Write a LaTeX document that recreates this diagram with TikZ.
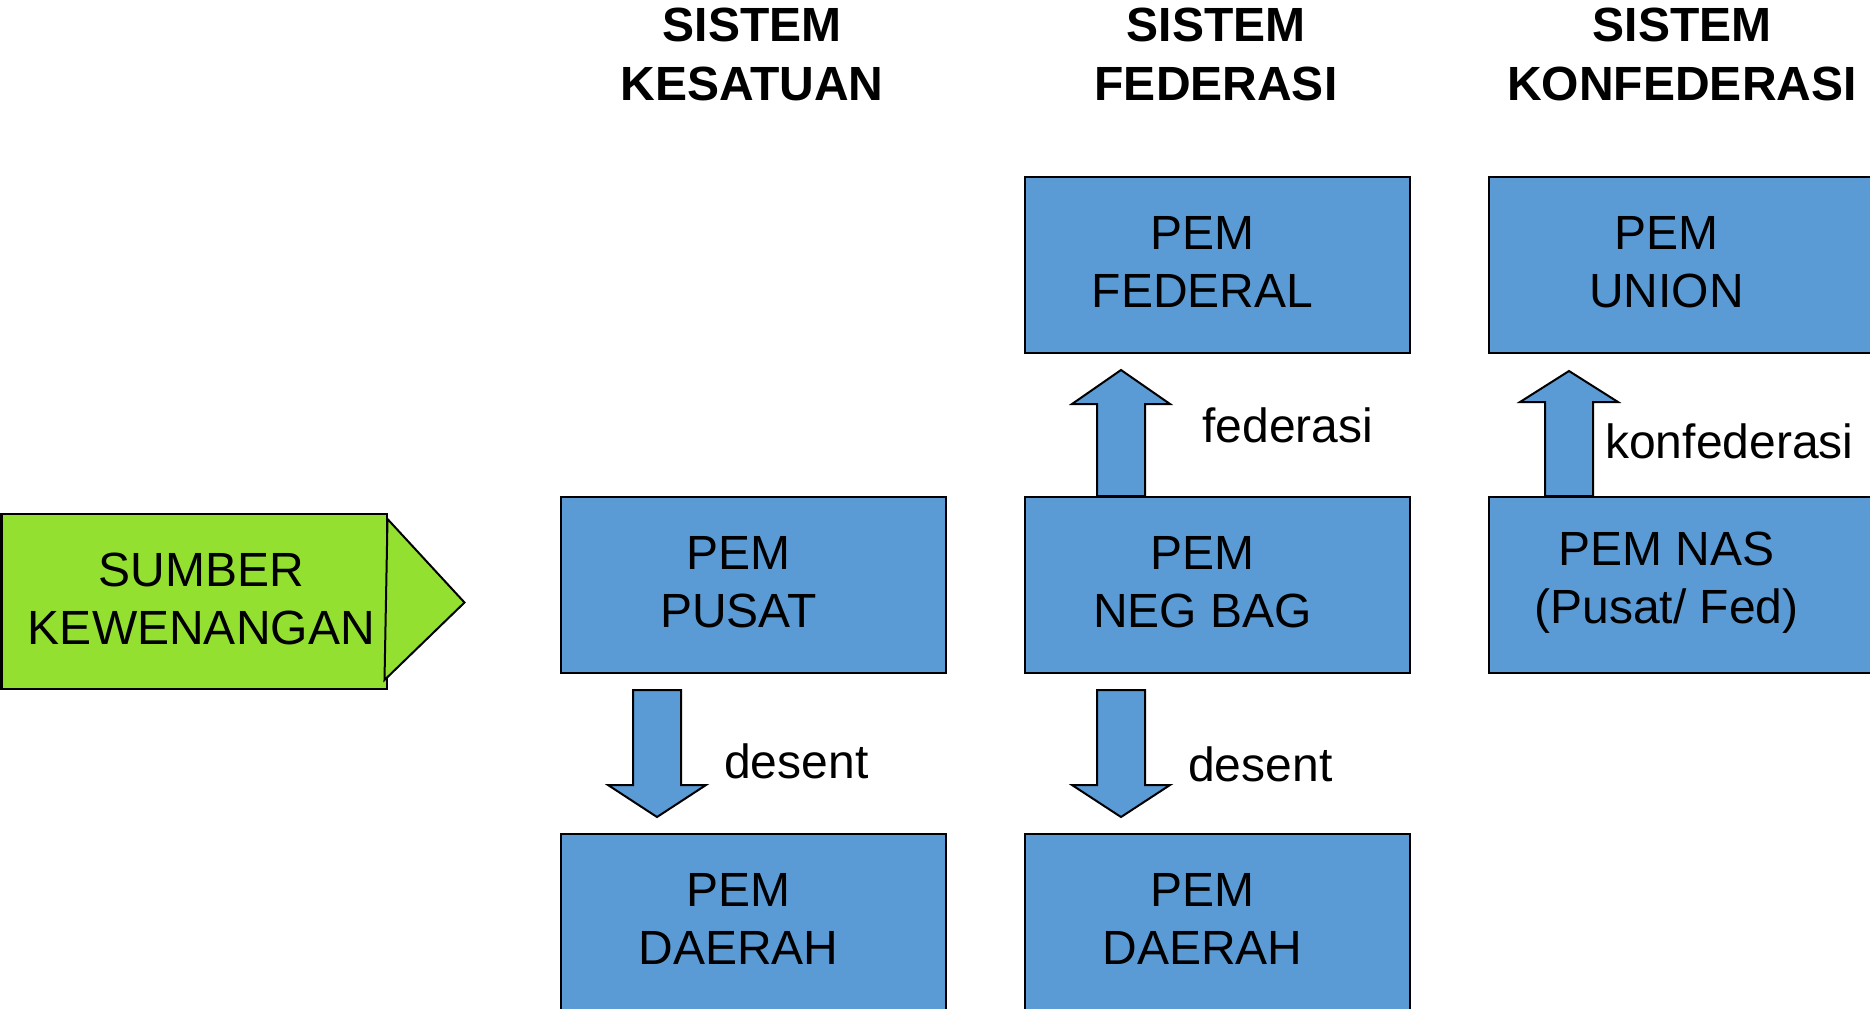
\documentclass[tikz,border=0pt]{standalone}
\usepackage{fontspec}
\setmainfont{Liberation Sans}
\usetikzlibrary{calc}
\definecolor{boxblue}{RGB}{91,155,213}
\definecolor{srcgreen}{RGB}{148,224,48}
\tikzset{
  govbox/.style={draw=black, line width=1.5pt, fill=boxblue, anchor=north west,
    minimum width=288.75pt, minimum height=132pt, inner sep=0pt},
  boxtext/.style={align=center, inner sep=0pt, xshift=-11.25pt, yshift=2pt,
    font=\fontsize{36pt}{43.5pt}\selectfont},
  headtext/.style={align=center, inner sep=0pt,
    font=\fontsize{36pt}{44.25pt}\selectfont\bfseries},
  arrowtext/.style={inner sep=0pt, anchor=base west,
    font=\fontsize{36pt}{43.5pt}\selectfont},
  blkarrow/.style={draw=black, line width=1.5pt, fill=boxblue, line join=miter},
}
% block arrow: tail, tip, signed head length
\newcommand{\blockarr}[3]{%
  \draw[blkarrow] ($(#1)+(-24,0)$) -- ($(#2)+(-24,#3)$) -- ($(#2)+(-49,#3)$) -- (#2)
    -- ($(#2)+(49,#3)$) -- ($(#2)+(24,#3)$) -- ($(#1)+(24,0)$) -- cycle;}

\begin{document}
\begin{tikzpicture}[x=0.75pt,y=0.75pt,yscale=-1,xscale=1]
\path[use as bounding box, clip] (0,0) rectangle (1870,1008);

% Text Node
\draw (752,54) node [headtext] (tkes) {SISTEM\\KESATUAN};
% Text Node
\draw (1216,54) node [headtext] (tfed) {SISTEM\\FEDERASI};
% Text Node
\draw (1682,54) node [headtext] (tkonf) {SISTEM\\KONFEDERASI};

% Shape: Rectangle
\draw (0.5,513) node [govbox, fill=srcgreen, minimum height=131.25pt,
  label={[boxtext, xshift=16.75pt]center:SUMBER\\KEWENANGAN}] (sumber) {};
% Shape: Triangle
\draw [line width=1.5pt, fill=srcgreen, line join=miter]
  ($(sumber.north east)+(0,6)$) -- ($(sumber.east)+(77,1)$) -- ($(sumber.south east)+(-3,-10)$) -- cycle;

% Shape: Rectangle
\draw (560,496) node [govbox, label={[boxtext]center:PEM\\PUSAT}] (pusat) {};
% Shape: Rectangle
\draw (560,833) node [govbox, label={[boxtext]center:PEM\\DAERAH}] (daerahA) {};
% Shape: Rectangle
\draw (1024,176) node [govbox, label={[boxtext]center:PEM\\FEDERAL}] (federal) {};
% Shape: Rectangle
\draw (1024,496) node [govbox, label={[boxtext]center:PEM\\NEG BAG}] (negbag) {};
% Shape: Rectangle
\draw (1024,833) node [govbox, label={[boxtext]center:PEM\\DAERAH}] (daerahB) {};
% Shape: Rectangle
\draw (1488,176) node [govbox, label={[boxtext]center:PEM\\UNION}] (union) {};
% Shape: Rectangle
\draw (1488,496) node [govbox, label={[boxtext]center:PEM NAS\\(Pusat/ Fed)}] (nas) {};

% Connection
\coordinate (dA1) at ($(pusat.south west)+(97,16)$);
\coordinate (dA2) at ($(daerahA.north west)+(97,-16)$);
\blockarr{dA1}{dA2}{-32}
% Connection
\coordinate (dB1) at ($(negbag.south west)+(97,16)$);
\coordinate (dB2) at ($(daerahB.north west)+(97,-16)$);
\blockarr{dB1}{dB2}{-32}
% Connection
\coordinate (uF1) at ($(negbag.north west)+(97,0)$);
\coordinate (uF2) at ($(federal.south west)+(97,16)$);
\blockarr{uF1}{uF2}{34}
% Connection
\coordinate (uK1) at ($(nas.north west)+(81,0)$);
\coordinate (uK2) at ($(union.south west)+(81,17)$);
\blockarr{uK1}{uK2}{31}

% Text Node
\draw (724,778) node [arrowtext] (ldesA) {desent};
% Text Node
\draw (1188,781) node [arrowtext] (ldesB) {desent};
% Text Node
\draw (1202,442) node [arrowtext] (lfed) {federasi};
% Text Node
\draw (1605,458) node [arrowtext] (lkonf) {konfederasi};

\end{tikzpicture}
\end{document}
